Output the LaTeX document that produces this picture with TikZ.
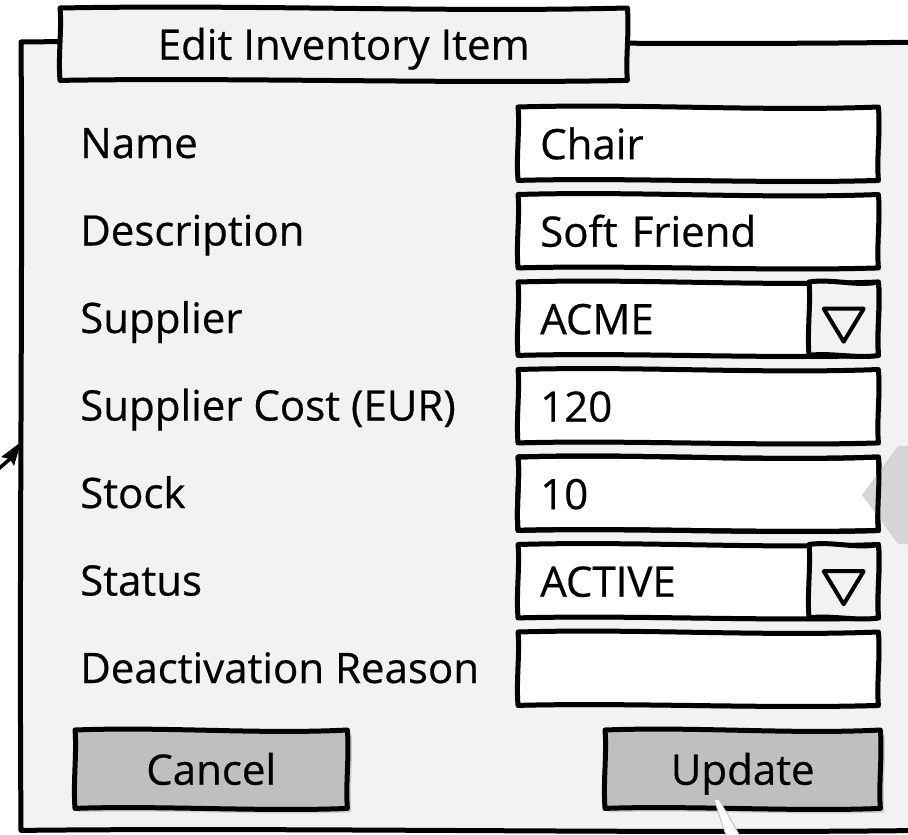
\documentclass[tikz,border=0pt]{standalone}
\usepackage{fontspec}
\setmainfont{Open Sans}[FakeBold=0.5]
\usetikzlibrary{calc,shadows}
\pgfdeclarelayer{back}
\pgfdeclarelayer{mid}
\pgfsetlayers{back,mid,main}
\definecolor{panel}{HTML}{F2F2F2}
\definecolor{btngray}{HTML}{BFBFBF}
\definecolor{hintgray}{HTML}{D5D5D5}
% hand-drawn outline around a named node: #1 extra options, #2 node, #3 fill
\newcommand\skbox[3][]{%
  \draw[sk,fill=#3,#1] (#2.north west)
    .. controls ($(#2.north west)!.33!(#2.north east)+(0,-3.5)$) and ($(#2.north west)!.68!(#2.north east)+(0,4.5)$) .. (#2.north east)
    .. controls ($(#2.north east)!.35!(#2.south east)+(2,0)$) and ($(#2.north east)!.7!(#2.south east)+(-2,0)$) .. (#2.south east)
    .. controls ($(#2.south east)!.3!(#2.south west)+(0,3.5)$) and ($(#2.south east)!.7!(#2.south west)+(0,-3)$) .. (#2.south west)
    .. controls ($(#2.south west)!.35!(#2.north west)+(-2,0)$) and ($(#2.south west)!.7!(#2.north west)+(2,0)$) .. (#2.north west) -- cycle;}
\begin{document}
\begin{tikzpicture}[x=1pt,y=-1pt,
  every node/.style={font=\fontsize{42}{50}\selectfont, inner sep=0pt},
  sk/.style={line width=5pt, line join=round, line cap=round},
  softshadow/.style={drop shadow={opacity=.22, shadow xshift=3pt, shadow yshift=-3pt}},
  fieldlabel/.style={anchor=base west},
  fieldbox/.style={anchor=north west, text width=316pt, inner xsep=22pt,
    minimum height=73pt, align=left, text height=31pt, text depth=0pt},
  dropbox/.style={anchor=north west, minimum width=69pt, minimum height=73pt},
  buttonbox/.style={anchor=north west, minimum height=78pt, text height=31pt, text depth=0pt},
  titlebox/.style={anchor=north west, minimum width=567pt, minimum height=72pt, text height=31pt, text depth=0pt},
  droptri/.style={line width=4pt, line join=round},
  connector/.style={line width=3.5pt}]
\useasboundingbox (0,0) rectangle (908,835);

% window, title tab and buttons
\node[anchor=north west, minimum width=905pt, minimum height=788pt] (win) at (21,42) {};
\node[titlebox] (tab) at (60,8) {Edit Inventory Item};
\node[buttonbox, minimum width=272pt] (cancel) at (75,730) {Cancel};
\node[buttonbox, minimum width=275pt] (upd) at (605,730) {Update};

% labels
\node[fieldlabel] (lname)  at (80,158)   {Name};
\node[fieldlabel] (ldesc)  at (80,245.5) {Description};
\node[fieldlabel] (lsupp)  at (80,333)   {Supplier};
\node[fieldlabel] (lcost)  at (80,420.5) {Supplier Cost (EUR)};
\node[fieldlabel] (lstock) at (80,508)   {Stock};
\node[fieldlabel] (lstat)  at (80,595.5) {Status};
\node[fieldlabel] (ldeac)  at (80,683)   {Deactivation Reason};

% input fields
\node[fieldbox] (fname)  at (518,107)   {Chair};
\node[fieldbox] (fdesc)  at (518,194.5) {Soft Friend};
\node[fieldbox] (fsupp)  at (518,282)   {ACME};
\node[fieldbox] (fcost)  at (518,369.5) {120};
\node[fieldbox] (fstock) at (518,457)   {10};
\node[fieldbox] (fstat)  at (518,544.5) {ACTIVE};
\node[fieldbox] (fdeac)  at (518,632)   {};

% combo box buttons
\node[dropbox] (dsupp) at (809,282)   {};
\node[dropbox] (dstat) at (809,544.5) {};

% outlines and fills
\begin{pgfonlayer}{back}
  \skbox{win}{panel}
\end{pgfonlayer}
\begin{pgfonlayer}{mid}
  \skbox{tab}{panel}
  \foreach \f in {fname,fdesc,fsupp,fcost,fstock,fstat,fdeac}{\skbox[softshadow]{\f}{white}}
  \skbox{dsupp}{panel}
  \skbox{dstat}{panel}
  \skbox[drop shadow={opacity=.3, shadow xshift=4pt, shadow yshift=-4pt}]{cancel}{btngray}
  \skbox[drop shadow={opacity=.3, shadow xshift=4pt, shadow yshift=-4pt}]{upd}{btngray}
  % pointer of a side note, partly over the stock field
  \fill[hintgray] (898,446) -- (930,446) -- (930,544) -- (898,544) -- (862,495) -- cycle;
  \skbox{fstock}{none}
\end{pgfonlayer}

% drop-down triangles
\foreach \d in {dsupp,dstat}{
  \draw[droptri] ($(\d.center)+(-20,-10)$) -- ($(\d.center)+(20,-10)$) -- ($(\d.center)+(0,23)$) -- cycle;}

% incoming connector on the left edge, with a filled head
\coordinate (asrc) at (-12,478);
\coordinate (atip) at ($(win.north west)+(0,400)$);
\coordinate (anotch) at ($(atip)+(-11,17)$);
\draw[connector] (asrc) -- (anotch);
\fill (atip) -- ++(-20,15) -- (anotch) -- ++(4,7) -- cycle;

% note pointer leaving the Update button
\coordinate (wtop) at ($(upd.south west)+(109,-9)$);
\fill[white, draw=gray!60, line width=.6pt] (wtop) -- ++(5,0) -- ++(26,45) -- ++(-16,0) -- cycle;
\end{tikzpicture}
\end{document}
